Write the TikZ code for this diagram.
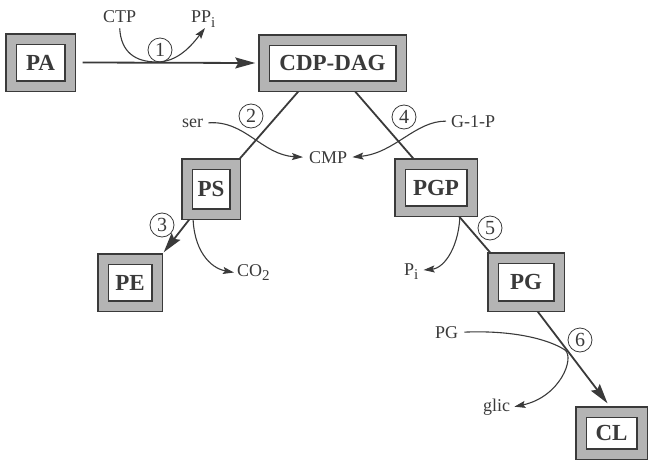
\documentclass[tikz,border=0pt]{standalone}
\usepackage{fontspec}
\setmainfont{Liberation Serif}
\usetikzlibrary{arrows.meta, calc, backgrounds}
\definecolor{InkGray}{HTML}{3A3A3A}
\definecolor{FrameGray}{HTML}{B4B4B4}
\newcommand{\lowsub}[1]{\raisebox{-0.6ex}{\fontsize{15}{15}\selectfont #1}}

\begin{document}
\begin{tikzpicture}[x=1pt, y=-1pt,
  lipid/.style={rectangle, draw=InkGray, line width=1.4pt, double=FrameGray, double distance=9pt,
    fill=white, text=InkGray, font=\fontsize{23}{23}\selectfont\bfseries,
    inner xsep=8pt, inner ysep=4pt, minimum height=47pt},
  enz/.style={circle, draw=InkGray, line width=0.8pt, minimum size=24pt, inner sep=0pt,
    text=InkGray, font=\fontsize{20}{20}\selectfont},
  metab/.style={inner sep=1pt, text=InkGray, font=\fontsize{18}{18}\selectfont},
  flux/.style={draw=InkGray, line width=1.8pt},
  fluxarrow/.style={flux, -{Stealth[length=20pt, width=11pt, inset=3pt]}},
  side/.style={draw=InkGray, line width=1.1pt, -{Stealth[length=11pt, width=7pt, inset=2pt]}}]
  \useasboundingbox (0,0) rectangle (649,463);
  % Lipids
  \node[lipid, minimum width=59pt] (pa) at (40.5,62.5) {PA};
  \node[lipid, minimum width=137pt, minimum height=46pt] (cdp) at (332.5,63) {CDP-DAG};
  \node[lipid, minimum width=48pt, minimum height=50pt] (ps) at (211,189) {PS};
  \node[lipid, minimum width=54pt] (pe) at (130,282.5) {PE};
  \node[lipid, minimum width=72pt] (pgp) at (436,187.5) {PGP};
  \node[lipid, minimum width=66pt, minimum height=48pt] (pg) at (526,282) {PG};
  \node[lipid, minimum width=61pt, minimum height=42pt] (cl) at (611.5,433) {CL};
  % Enzyme steps
  \node[enz] (e1) at (160,50) {1};
  \node[enz] (e2) at (251,116) {2};
  \node[enz] (e3) at (162,225) {3};
  \node[enz] (e4) at (404,117) {4};
  \node[enz] (e5) at (490,228) {5};
  \node[enz] (e6) at (580,340) {6};
  % Side metabolites
  \node[metab, anchor=base west] (ctp) at (102,23) {CTP};
  \node[metab, anchor=base west] (ppi) at (190,23) {PP\lowsub{i}};
  \node[metab, anchor=base west] (ser) at (181,127) {ser};
  \node[metab, anchor=base west] (cmp) at (308,163) {CMP};
  \node[metab, anchor=base west] (g1p) at (450,127) {G-1-P};
  \node[metab, anchor=base west] (co2) at (236,276) {CO\lowsub{2}};
  \node[metab, anchor=base west] (pi) at (403,275) {P\lowsub{i}};
  \node[metab, anchor=base west] (pgl) at (434,338) {PG};
  \node[metab, anchor=base west] (glic) at (482,411) {glic};
  \begin{scope}[on background layer]
    % Main route
    \draw[fluxarrow] ($(pa.east)+(12,0)$) -- ($(cdp.west)+(-8,0)$);
    \draw[flux] ($(cdp.south)+(-30,0)$) -- (ps.north east);
    \draw[flux] ($(cdp.south)+(18.5,0)$) -- ($(pgp.north)+(-18.5,0)$);
    \draw[fluxarrow] ($(ps.south)+(-18,0)$) -- ($(pe.north east)+(6,-6)$);
    \draw[flux] ($(pgp.south)+(19,0)$) -- ($(pg.north west)+(2,0)$);
    \draw[fluxarrow] ($(pg.south)+(8,0)$) -- ($(cl.north)+(-4,-8)$);
    % Co-substrates and by-products
    \coordinate (t1) at (157,62);
    \draw[side] ($(ctp.south)+(0,4)$) .. controls (121,52) and (135,62) .. (t1)
      .. controls (178,62) and (192,45) .. ($(ppi.base west)+(15,5)$);
    \draw[side] ($(ser.east)+(4,0)$) .. controls (245,120) and (262,155) .. ($(cmp.west)+(-5,0)$);
    \draw[side] ($(g1p.west)+(-4,0)$) .. controls (415,121) and (395,153) .. ($(cmp.east)+(4,0)$);
    \draw[side] ($(ps.south)+(-18,0)$) .. controls (193,250) and (210,268) .. ($(co2.west)+(-2,0)$);
    \draw[side] ($(pgp.south)+(24,0)$) .. controls (460,245) and (445,268) .. ($(pi.base east)+(4,-5)$);
    \coordinate (t6) at (565,350);
    \draw[side] ($(pgl.east)+(5,0)$) .. controls (515,330) and (550,340) .. (t6)
      .. controls (575,358) and (560,397) .. ($(glic.east)+(3,0)$);
  \end{scope}
\end{tikzpicture}
\end{document}
